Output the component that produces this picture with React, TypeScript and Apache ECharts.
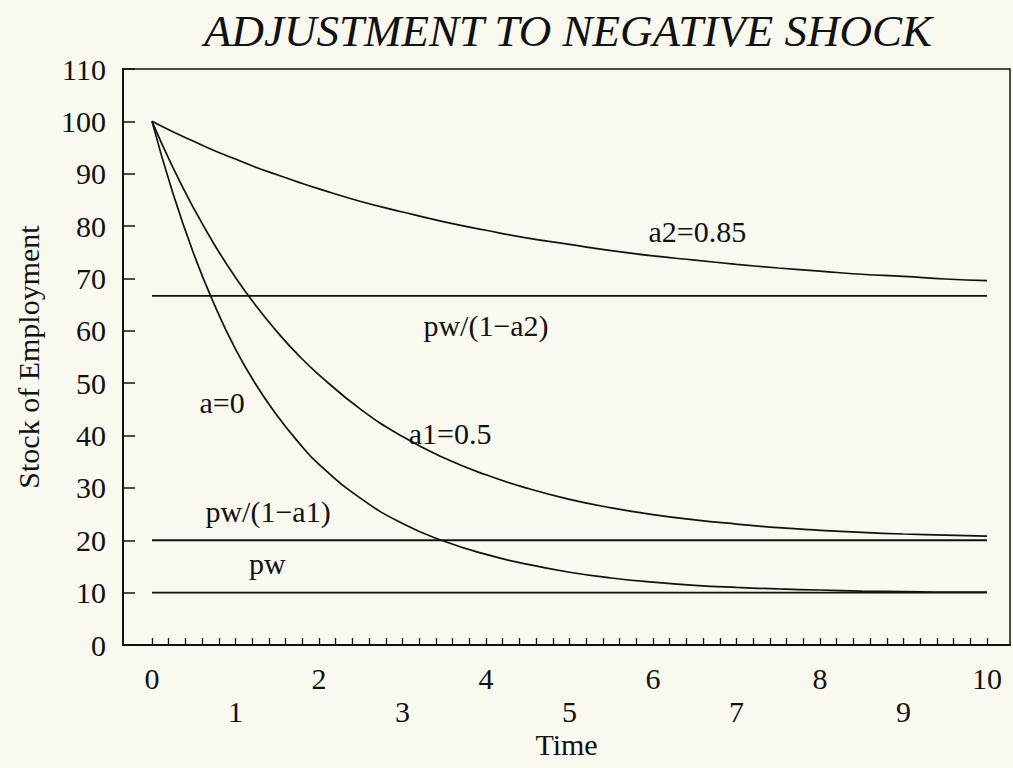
import React, { useEffect, useRef } from "react";
import * as echarts from "echarts";

// Time points (x)
const timePoints = [0, 0.25, 0.5, 0.75, 1, 1.25, 1.5, 1.75, 2, 2.5, 3, 3.5, 4, 4.5, 5, 5.5, 6, 6.5, 7, 7.5, 8, 8.5, 9, 9.5, 10];
// Stock of employment, a = 0
const seriesA0 = [100, 86.3, 74.7, 64.9, 56.5, 49.6, 43.8, 38.8, 34.5, 28.0, 23.2, 19.8, 17.3, 15.4, 13.9, 12.8, 12.0, 11.4, 11.0, 10.7, 10.5, 10.3, 10.2, 10.1, 10.1];
// a1 = 0.5
const seriesA1 = [100, 91.2, 83.4, 76.4, 70.2, 64.7, 59.8, 55.4, 51.6, 45.0, 39.8, 35.7, 32.5, 29.9, 27.8, 26.2, 24.9, 23.9, 23.1, 22.4, 21.9, 21.5, 21.2, 21.0, 20.8];
// a2 = 0.85
const seriesA2 = [100, 98.0, 96.2, 94.4, 92.8, 91.2, 89.8, 88.4, 87.1, 84.7, 82.7, 80.8, 79.2, 77.7, 76.5, 75.3, 74.3, 73.5, 72.7, 72.0, 71.4, 70.8, 70.4, 69.9, 69.6];
// Horizontal steady-state levels
const levelValues = [66.67, 20, 10];
const levelRange = [0, 10];
// Tick labels
const evenTicks = [0, 2, 4, 6, 8, 10];
const oddTicks = [1, 3, 5, 7, 9];
const minorTicks = Array.from({ length: 51 }, (_, i) => Math.round(i * 2) / 10);
// Annotations [text, time, value]
const annotations: [string, number, number][] = [
  ["a2=0.85", 6.53, 78.9],
  ["pw/(1\u2212a2)", 4.0, 61.0],
  ["a=0", 0.84, 46.3],
  ["a1=0.5", 3.57, 40.4],
  ["pw/(1\u2212a1)", 1.39, 25.4],
  ["pw", 1.38, 15.6],
];

const FONT = "'Liberation Serif', 'Times New Roman', serif";
const INK = "#111111";

export default function App() {
  const ref = useRef<HTMLDivElement>(null);
  useEffect(() => {
    if (!ref.current) return;
    const chart = echarts.init(ref.current, undefined, { renderer: "svg" });
    const zip = (ys: number[]) => timePoints.map((t, i) => [t, ys[i]]);
    const curve = (name: string, ys: number[]) => ({
      name,
      type: "line",
      data: zip(ys),
      smooth: true,
      showSymbol: false,
      lineStyle: { color: INK, width: 1.7 },
      z: 3,
    });
    const xMin = -0.347;
    const xMax = 10.275;
    chart.setOption({
      animation: false,
      backgroundColor: "#f9f9f0",
      grid: {
        left: 123,
        top: 69,
        right: 3,
        bottom: 123,
        show: true,
        borderColor: INK,
        borderWidth: 1.5,
        backgroundColor: "transparent",
      },
      graphic: [
        {
          type: "text",
          x: 568,
          y: 31,
          style: {
            text: "ADJUSTMENT TO NEGATIVE SHOCK",
            font: `italic 45px ${FONT}`,
            fill: INK,
            textAlign: "center",
            textVerticalAlign: "middle",
          },
        },
      ],
      xAxis: [
        {
          type: "value",
          min: xMin,
          max: xMax,
          position: "bottom",
          name: "Time",
          nameLocation: "middle",
          nameGap: 84,
          nameTextStyle: { fontFamily: FONT, fontSize: 30, color: INK },
          axisLine: { show: true, onZero: false, lineStyle: { color: INK, width: 2 } },
          axisTick: {
            show: true,
            inside: true,
            length: 7,
            customValues: minorTicks,
            lineStyle: { color: INK, width: 1.3 },
          },
          axisLabel: {
            show: true,
            customValues: evenTicks,
            margin: 18,
            fontFamily: FONT,
            fontSize: 30,
            color: INK,
          },
          splitLine: { show: false },
        },
        {
          type: "value",
          min: xMin,
          max: xMax,
          position: "bottom",
          axisLine: { show: false, onZero: false },
          axisTick: { show: false },
          axisLabel: {
            show: true,
            customValues: oddTicks,
            margin: 51,
            fontFamily: FONT,
            fontSize: 30,
            color: INK,
          },
          splitLine: { show: false },
        },
      ],
      yAxis: {
        type: "value",
        min: 0,
        max: 110,
        interval: 10,
        name: "Stock of Employment",
        nameLocation: "middle",
        nameGap: 80,
        nameTextStyle: { fontFamily: FONT, fontSize: 30, color: INK },
        axisLine: { show: true, onZero: false, lineStyle: { color: INK, width: 2 } },
        axisTick: { show: true, inside: true, length: 12, lineStyle: { color: INK, width: 1.5 } },
        axisLabel: { margin: 17, fontFamily: FONT, fontSize: 30, color: INK },
        splitLine: { show: false },
      },
      series: [
        curve("a=0", seriesA0),
        curve("a1=0.5", seriesA1),
        curve("a2=0.85", seriesA2),
        ...levelValues.map((v, i) => ({
          name: "level" + i,
          type: "line",
          data: levelRange.map((t) => [t, v]),
          showSymbol: false,
          lineStyle: { color: INK, width: 1.8 },
          z: 2,
        })),
        {
          name: "labels",
          type: "scatter",
          symbolSize: 0,
          itemStyle: { opacity: 1 },
          data: annotations.map(([txt, t, v]) => ({ value: [t, v], name: txt })),
          label: {
            show: true,
            position: "inside",
            formatter: (p: any) => p.name,
            fontFamily: FONT,
            fontSize: 30,
            color: INK,
            opacity: 1,
          },
          emphasis: { disabled: true },
          z: 4,
        },
      ],
    });
    return () => chart.dispose();
  }, []);
  return (
    <div
      ref={ref}
      style={{ position: "fixed", left: 0, top: 0, width: 1013, height: 768 }}
    />
  );
}
